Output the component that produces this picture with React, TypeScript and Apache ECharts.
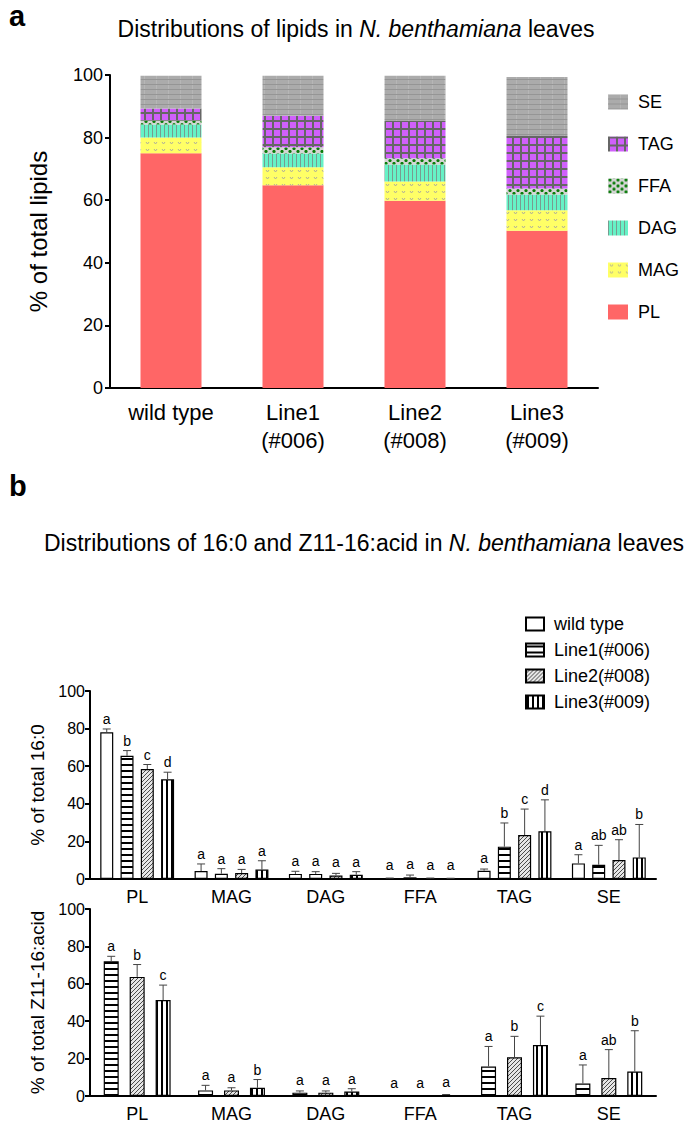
import React, { useEffect, useRef } from 'react';
import * as echarts from 'echarts';

// ---------- Panel a data ----------
const lineCats = ['wild type', 'Line1\n(#006)', 'Line2\n(#008)', 'Line3\n(#009)'];
const plShare = [75, 64.8, 59.8, 50.2];
const magShare = [5, 5.7, 6.2, 6.6];
const dagShare = [4.2, 4.4, 5.4, 5.0];
const ffaShare = [1.2, 2.0, 2.0, 1.9];
const tagShare = [3.9, 10.1, 11.9, 16.8];
const seShare = [10.5, 12.8, 14.5, 18.9];
const yTicksA = [0, 20, 40, 60, 80, 100];

// ---------- Panel b data ----------
const lipidCats = ['PL', 'MAG', 'DAG', 'FFA', 'TAG', 'SE'];
const lineNames = ['wild type', 'Line1(#006)', 'Line2(#008)', 'Line3(#009)'];

// 16:0 (% of total)
const c16wt = [78, 4.2, 2.7, 0.3, 4.4, 8.3];
const c16wtErr = [1.8, 3.8, 1.4, 0.2, 0.9, 4.6];
const c16l1 = [65.5, 2.8, 2.7, 0.9, 17.2, 7.6];
const c16l1Err = [2.8, 2.7, 1.2, 1.2, 12.6, 10.3];
const c16l2 = [58.5, 3.2, 1.9, 0.3, 23.4, 10.1];
const c16l2Err = [2.4, 1.9, 1.1, 0.2, 13.8, 10.8];
const c16l3 = [53, 5.0, 2.3, 0.3, 25.4, 11.5];
const c16l3Err = [3.8, 4.7, 1.6, 0.1, 16.7, 17.5];
const c16wtSig = ['a', 'a', 'a', 'a', 'a', 'a'];
const c16l1Sig = ['b', 'a', 'a', 'a', 'b', 'ab'];
const c16l2Sig = ['c', 'a', 'a', 'a', 'c', 'ab'];
const c16l3Sig = ['d', 'a', 'a', 'a', 'd', 'b'];

// Z11-16:acid (% of total)
const z11l1 = [72, 3.0, 1.8, 0, 15.8, 6.7];
const z11l1Err = [2.7, 2.7, 0.9, 0, 10.7, 9.9];
const z11l2 = [63.7, 3.0, 1.8, 0, 20.7, 9.6];
const z11l2Err = [6.6, 1.4, 0.9, 0, 11.2, 15.2];
const z11l3 = [51.3, 4.4, 2.4, 0.5, 27.3, 13.1];
const z11l3Err = [8, 4.4, 1.5, 0.3, 15.4, 21.8];
const z11l1Sig = ['a', 'a', 'a', 'a', 'a', 'a'];
const z11l2Sig = ['b', 'a', 'a', 'a', 'b', 'ab'];
const z11l3Sig = ['c', 'b', 'a', 'a', 'c', 'b'];

const FONT = '"Liberation Sans", Arial, Helvetica, sans-serif';

function pattern(w: number, h: number, draw: (ctx: CanvasRenderingContext2D) => void) {
  const c = document.createElement('canvas');
  c.width = w;
  c.height = h;
  const ctx = c.getContext('2d')!;
  draw(ctx);
  return { image: c.toDataURL(), repeat: 'repeat', imageWidth: w, imageHeight: h } as any;
}

export default function App() {
  const ref = useRef<HTMLDivElement>(null);
  useEffect(() => {
    if (!ref.current) return;
    const chart = echarts.init(ref.current, null, { renderer: 'svg' });

    // panel a fills
    const pSE = pattern(12, 5, (c) => {
      c.fillStyle = '#ababab'; c.fillRect(0, 0, 12, 5);
      c.fillStyle = '#b6b6b6'; c.fillRect(0, 0, 1, 5);
      c.fillStyle = '#959595'; c.fillRect(0, 4, 12, 1);
    });
    const pTAG = pattern(8, 8, (c) => {
      c.fillStyle = '#666666'; c.fillRect(0, 0, 8, 8);
      c.fillStyle = '#d060fb'; c.fillRect(2, 2, 6, 6);
    });
    const pFFA = pattern(8, 6, (c) => {
      c.fillStyle = '#d4d4d4'; c.fillRect(0, 0, 8, 6);
      c.fillStyle = '#0a7d0a';
      c.beginPath(); c.arc(2, 1.5, 1.6, 0, Math.PI * 2); c.fill();
      c.beginPath(); c.arc(6, 4.5, 1.6, 0, Math.PI * 2); c.fill();
    });
    const pDAG = pattern(4, 4, (c) => {
      c.fillStyle = '#66f2c6'; c.fillRect(0, 0, 4, 4);
      c.fillStyle = '#789c90'; c.fillRect(0, 0, 1, 4);
    });
    const pMAG = pattern(8, 7, (c) => {
      c.fillStyle = '#ffff66'; c.fillRect(0, 0, 8, 7);
      c.strokeStyle = '#b0b09a'; c.lineWidth = 1;
      c.beginPath(); c.moveTo(2, 2); c.lineTo(3.5, 4); c.lineTo(5, 2); c.stroke();
    });
    const cPL = '#ff6666';

    // panel b fills
    const pWT = '#ffffff';
    const pL1 = pattern(6, 6, (c) => {
      c.fillStyle = '#ffffff'; c.fillRect(0, 0, 6, 6);
      c.fillStyle = '#000000'; c.fillRect(0, 2, 6, 2);
    });
    const pL2 = pattern(4, 4, (c) => {
      c.fillStyle = '#e6e6e6'; c.fillRect(0, 0, 4, 4);
      c.strokeStyle = '#3a3a3a'; c.lineWidth = 0.9;
      c.beginPath();
      c.moveTo(0, 4); c.lineTo(4, 0);
      c.moveTo(-1, 1); c.lineTo(1, -1);
      c.moveTo(3, 5); c.lineTo(5, 3);
      c.stroke();
    });
    const pL3 = pattern(5, 5, (c) => {
      c.fillStyle = '#ffffff'; c.fillRect(0, 0, 5, 5);
      c.fillStyle = '#000000'; c.fillRect(1, 0, 2, 5);
    });

    const axisLine = { lineStyle: { color: '#000', width: 2 } };
    const axisTick = { length: 5, lineStyle: { color: '#000', width: 2 } };

    const stackA = [
      { name: 'PL', data: plShare, color: cPL },
      { name: 'MAG', data: magShare, color: pMAG },
      { name: 'DAG', data: dagShare, color: pDAG },
      { name: 'FFA', data: ffaShare, color: pFFA },
      { name: 'TAG', data: tagShare, color: pTAG },
      { name: 'SE', data: seShare, color: pSE },
    ].map((s) => ({
      type: 'bar',
      name: s.name,
      xAxisIndex: 0,
      yAxisIndex: 0,
      stack: 'lipids',
      barWidth: 61,
      data: s.data,
      itemStyle: { color: s.color },
      emphasis: { disabled: true },
    }));

    const fillsB = [pWT, pL1, pL2, pL3];

    const topVals = [c16wt, c16l1, c16l2, c16l3];
    const topErr = [c16wtErr, c16l1Err, c16l2Err, c16l3Err];
    const topSig = [c16wtSig, c16l1Sig, c16l2Sig, c16l3Sig];
    const botVals = [z11l1, z11l2, z11l3];
    const botErr = [z11l1Err, z11l2Err, z11l3Err];
    const botSig = [z11l1Sig, z11l2Sig, z11l3Sig];

    const topBars = topVals.map((vals, i) => ({
      type: 'bar',
      name: lineNames[i],
      xAxisIndex: 1,
      yAxisIndex: 1,
      barWidth: 13,
      barGap: '56%',
      data: vals,
      itemStyle: { color: fillsB[i], borderColor: '#000', borderWidth: 1.2 },
      emphasis: { disabled: true },
    }));
    const botBars = botVals.map((vals, i) => ({
      type: 'bar',
      name: lineNames[i + 1],
      xAxisIndex: 2,
      yAxisIndex: 2,
      barWidth: 15,
      barGap: '73%',
      data: vals,
      itemStyle: { color: fillsB[i + 1], borderColor: '#000', borderWidth: 1.2 },
      emphasis: { disabled: true },
    }));

    const errSeries = (
      axis: number,
      vals: number[],
      errs: number[],
      sig: string[],
      offset: number
    ) => ({
      type: 'custom',
      xAxisIndex: axis,
      yAxisIndex: axis,
      z: 5,
      silent: true,
      data: vals.map((v, k) => [k, v, errs[k]]),
      renderItem: (params: any, api: any) => {
        const ci = api.value(0);
        const v = api.value(1);
        const e = api.value(2);
        const base = api.coord([ci, v]);
        const top = api.coord([ci, v + e]);
        const x = base[0] + offset;
        const children: any[] = [];
        if (e > 0) {
          children.push({
            type: 'line',
            shape: { x1: x, y1: base[1], x2: x, y2: top[1] },
            style: { stroke: '#444', lineWidth: 1 },
          });
          children.push({
            type: 'line',
            shape: { x1: x - 4, y1: top[1], x2: x + 4, y2: top[1] },
            style: { stroke: '#444', lineWidth: 1 },
          });
        }
        children.push({
          type: 'text',
          x,
          y: Math.min(top[1], base[1] - 3) - 3,
          style: {
            text: sig[params.dataIndex],
            fill: '#000',
            font: `14px ${FONT}`,
            textAlign: 'center',
            textVerticalAlign: 'bottom',
          },
        });
        return { type: 'group', children };
      },
    });

    const stepTop = 13 * 1.56;
    const stepBot = 15 * 1.73;
    const topErrSeries = topVals.map((v, i) =>
      errSeries(1, v, topErr[i], topSig[i], (i - 1.5) * stepTop)
    );
    const botErrSeries = botVals.map((v, i) =>
      errSeries(2, v, botErr[i], botSig[i], (i - 1) * stepBot)
    );

    const baseText = { fontFamily: FONT, color: '#000' };
    const titleRich = {
      n: { fontSize: 23, fontFamily: FONT, color: '#000', fontWeight: 'normal' },
      i: { fontSize: 23, fontFamily: FONT, color: '#000', fontStyle: 'italic', fontWeight: 'normal' },
    };

    chart.setOption({
      animation: false,
      textStyle: { fontFamily: FONT },
      title: [
        {
          text: '{n|Distributions of lipids in }{i|N. benthamiana}{n| leaves}',
          left: 356,
          top: 17,
          textAlign: 'center',
          padding: 0,
          textStyle: { fontWeight: 'normal', rich: titleRich },
        },
        {
          text: '{n|Distributions of 16:0 and Z11-16:acid in }{i|N. benthamiana}{n| leaves}',
          left: 364,
          top: 531,
          textAlign: 'center',
          padding: 0,
          textStyle: { fontWeight: 'normal', rich: titleRich },
        },
      ],
      graphic: [
        {
          type: 'text',
          left: 9,
          top: 1,
          style: { text: 'a', font: `bold 29px ${FONT}`, fill: '#000' },
        },
        {
          type: 'text',
          left: 9,
          top: 471,
          style: { text: 'b', font: `bold 29px ${FONT}`, fill: '#000' },
        },
      ],
      legend: [
        {
          data: ['SE', 'TAG', 'FFA', 'DAG', 'MAG', 'PL'],
          orient: 'vertical',
          left: 608,
          top: 93,
          padding: 0,
          itemWidth: 20,
          itemHeight: 15,
          itemGap: 24,
          icon: 'rect',
          selectedMode: false,
          textStyle: { ...baseText, fontSize: 18, padding: [0, 0, 0, 5] },
        },
        {
          data: lineNames,
          orient: 'vertical',
          left: 525,
          top: 615,
          padding: 0,
          itemWidth: 18,
          itemHeight: 13,
          itemGap: 8,
          icon: 'rect',
          selectedMode: false,
          textStyle: { ...baseText, fontSize: 18, padding: [0, 0, 0, 5] },
        },
      ],
      grid: [
        { left: 110, top: 75, width: 488, height: 313 },
        { left: 90, top: 691, width: 566, height: 188 },
        { left: 90, top: 909, width: 566, height: 188 },
      ],
      xAxis: [
        {
          type: 'category',
          gridIndex: 0,
          data: lineCats,
          axisLine,
          axisTick: { ...axisTick, alignWithLabel: true },
          axisLabel: { ...baseText, fontSize: 22, lineHeight: 28, margin: 10 },
        },
        {
          type: 'category',
          gridIndex: 1,
          data: lipidCats,
          axisLine,
          axisTick: { ...axisTick, alignWithLabel: true },
          axisLabel: { ...baseText, fontSize: 18, margin: 9 },
        },
        {
          type: 'category',
          gridIndex: 2,
          data: lipidCats,
          axisLine,
          axisTick: { ...axisTick, alignWithLabel: true },
          axisLabel: { ...baseText, fontSize: 18, margin: 9 },
        },
      ],
      yAxis: [
        {
          type: 'value',
          gridIndex: 0,
          min: yTicksA[0],
          max: yTicksA[yTicksA.length - 1],
          interval: 20,
          axisLine: { show: true, ...axisLine },
          axisTick: { show: true, ...axisTick },
          splitLine: { show: false },
          axisLabel: { ...baseText, fontSize: 18, margin: 7 },
          name: '% of total lipids',
          nameLocation: 'middle',
          nameGap: 60,
          nameTextStyle: { ...baseText, fontSize: 24 },
        },
        {
          type: 'value',
          gridIndex: 1,
          min: 0,
          max: 100,
          interval: 20,
          axisLine: { show: true, ...axisLine },
          axisTick: { show: true, ...axisTick },
          splitLine: { show: false },
          axisLabel: { ...baseText, fontSize: 16, margin: 5 },
          name: '% of total 16:0',
          nameLocation: 'middle',
          nameGap: 43,
          nameTextStyle: { ...baseText, fontSize: 19 },
        },
        {
          type: 'value',
          gridIndex: 2,
          min: 0,
          max: 100,
          interval: 20,
          axisLine: { show: true, ...axisLine },
          axisTick: { show: true, ...axisTick },
          splitLine: { show: false },
          axisLabel: { ...baseText, fontSize: 16, margin: 5 },
          name: '% of total Z11-16:acid',
          nameLocation: 'middle',
          nameGap: 43,
          nameTextStyle: { ...baseText, fontSize: 19 },
        },
      ],
      series: [...stackA, ...topBars, ...botBars, ...topErrSeries, ...botErrSeries],
    });
    return () => chart.dispose();
  }, []);
  return (
    <div
      ref={ref}
      style={{ position: 'absolute', left: 0, top: 0, width: 685, height: 1123, background: '#fff' }}
    />
  );
}
